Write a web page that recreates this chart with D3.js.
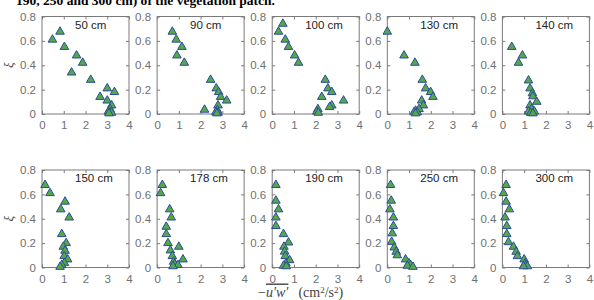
<!DOCTYPE html>
<html>
<head>
<meta charset="utf-8">
<script src="https://cdn.jsdelivr.net/npm/d3@7"></script>
<style>
body { margin: 0; background: #fff; }
svg { display: block; }
</style>
</head>
<body>
<svg id="chart" width="594" height="300"></svg>
<script>
// stations downstream of the patch, one panel each
const stationLabels = ["50 cm", "90 cm", "100 cm", "130 cm", "140 cm",
                       "150 cm", "178 cm", "190 cm", "250 cm", "300 cm"];

// [-u'w' (cm^2/s^2), xi]
const uw50 = [[0.83,0.675],[0.48,0.61],[1.03,0.55],[1.59,0.48],[1.87,0.42],[1.36,0.34],[2.24,0.28],
              [3.0,0.21],[3.33,0.18],[2.67,0.14],[3.0,0.11],[3.2,0.07],[3.13,0.04],[3.05,0.02],
              [3.15,0.015],[3.2,0.01],[3.08,0.005]];
const uw90 = [[0.70,0.675],[0.88,0.61],[1.14,0.55],[0.91,0.48],[1.25,0.42],[2.46,0.28],[2.72,0.21],
              [2.83,0.18],[2.92,0.14],[3.2,0.11],[2.8,0.07],[2.18,0.035],[2.77,0.03],[2.7,0.015],
              [2.8,0.01],[2.75,0.005]];
const uw100 = [[0.49,0.74],[0.29,0.675],[0.6,0.61],[0.75,0.55],[1.03,0.48],[1.21,0.42],[2.44,0.28],
               [2.56,0.21],[2.74,0.18],[2.28,0.14],[3.28,0.11],[2.74,0.07],[2.64,0.057],[2.1,0.04],
               [2.05,0.02],[2.12,0.01]];
const uw130 = [[0.0,0.675],[0.77,0.48],[1.27,0.42],[1.61,0.28],[1.76,0.21],[1.99,0.18],[2.1,0.14],
               [1.58,0.11],[1.66,0.07],[1.46,0.04],[1.3,0.027],[1.38,0.014],[1.23,0.014],[1.3,0.005]];
const uw140 = [[0.43,0.55],[0.92,0.48],[0.74,0.42],[1.2,0.275],[1.27,0.21],[1.38,0.17],[1.4,0.145],
               [1.58,0.10],[1.27,0.07],[1.35,0.04],[1.47,0.02],[1.2,0.02],[1.3,0.008],[1.4,0.005]];
const uw150 = [[0.14,0.677],[0.37,0.61],[1.06,0.54],[0.86,0.477],[1.25,0.41],[0.91,0.274],[1.11,0.2],
               [0.98,0.17],[1.06,0.137],[1.02,0.093],[1.18,0.066],[1.03,0.038],[0.91,0.02],[0.83,0.005]];
const uw178 = [[0.24,0.677],[0.16,0.61],[0.58,0.477],[0.65,0.41],[0.42,0.334],[0.42,0.274],[0.5,0.2],
               [0.61,0.14],[1.0,0.17],[0.7,0.093],[1.19,0.066],[0.76,0.047],[0.81,0.027],[0.96,0.02],
               [0.73,0.01]];
const uw190 = [[0.17,0.677],[0.17,0.548],[0.29,0.477],[0.17,0.41],[0.17,0.34],[0.52,0.274],[0.75,0.205],
               [0.54,0.17],[0.57,0.13],[0.6,0.093],[0.8,0.06],[0.63,0.033],[0.52,0.014],[0.65,0.01]];
const uw250 = [[0.15,0.677],[0.18,0.548],[0.12,0.477],[0.28,0.41],[0.28,0.34],[0.23,0.28],[0.2,0.21],
               [0.32,0.164],[0.41,0.129],[0.46,0.1],[0.84,0.066],[1.0,0.033],[1.07,0.02],[0.92,0.014],
               [1.18,0.005]];
const uw300 = [[0.17,0.677],[0.05,0.61],[0.17,0.54],[0.32,0.477],[0.12,0.41],[0.2,0.34],[0.2,0.274],
               [0.28,0.208],[0.51,0.17],[0.63,0.129],[0.69,0.093],[1.0,0.066],[1.05,0.033],[1.09,0.02],
               [1.15,0.01],[0.97,0.01]];
const stationData = [uw50, uw90, uw100, uw130, uw140, uw150, uw178, uw190, uw250, uw300];

const xTicks = [0, 1, 2, 3, 4];
const yTicks = [0, 0.2, 0.4, 0.6, 0.8];

// layout
const panelW = 87, panelH = 97.5;
const colStep = 115.1, left0 = 42;
const rowTops = [16.5, 170];

const svg = d3.select("#chart");
const axisGray = "#7a7a7a";
const tickText = "#707070";

const x = d3.scaleLinear().domain([0, 4]).range([0, panelW]);
const y = d3.scaleLinear().domain([0, 0.8]).range([panelH, 0]);
const tri = d3.symbol().type(d3.symbolTriangle).size(32);

// caption fragment cut off at the top of the page (as in the source image)
svg.append("text")
    .attr("x", 16).attr("y", 4.5)
    .attr("font-family", "Liberation Serif").attr("font-weight", "bold")
    .attr("font-size", 13).attr("fill", "#000")
    .attr("textLength", 259).attr("lengthAdjust", "spacingAndGlyphs")
    .text("190, 250 and 300 cm) of the vegetation patch.");

stationLabels.forEach((label, i) => {
    const row = Math.floor(i / 5), col = i % 5;
    const g = svg.append("g")
        .attr("transform", `translate(${left0 + col * colStep},${rowTops[row]})`);

    const styleAxis = sel => {
        sel.select(".domain").remove();
        sel.selectAll("line").attr("stroke", axisGray);
        sel.selectAll("text").attr("fill", tickText)
            .attr("font-family", "Liberation Sans").attr("font-size", 11.5);
    };

    g.append("g").attr("transform", `translate(0,${panelH})`)
        .call(d3.axisBottom(x).tickValues(xTicks).tickSize(-3).tickPadding(7).tickFormat(d3.format("d")))
        .call(styleAxis);
    g.append("g")
        .call(d3.axisTop(x).tickValues(xTicks).tickSize(-3).tickFormat(""))
        .call(styleAxis);
    g.append("g")
        .call(d3.axisLeft(y).tickValues(yTicks).tickSize(-3).tickPadding(6)
            .tickFormat(d => d === 0 ? "0" : d3.format(".1f")(d)))
        .call(styleAxis);
    g.append("g").attr("transform", `translate(${panelW},0)`)
        .call(d3.axisRight(y).tickValues(yTicks).tickSize(-3).tickFormat(""))
        .call(styleAxis);

    g.append("rect")
        .attr("width", panelW).attr("height", panelH)
        .attr("fill", "none").attr("stroke", axisGray).attr("stroke-width", 1);

    g.append("text")
        .attr("x", 33).attr("y", 12)
        .attr("font-family", "Liberation Sans").attr("font-size", 11.5)
        .attr("fill", "#222")
        .text(label);

    g.selectAll("path.pt")
        .data(stationData[i])
        .join("path")
        .attr("class", "pt")
        .attr("transform", d => `translate(${x(d[0])},${y(d[1])})`)
        .attr("d", tri)
        .attr("fill", "#55a84a")
        .attr("stroke", "#2b4c9b")
        .attr("stroke-width", 1);

    if (col === 0) {
        svg.append("text")
            .attr("transform", `translate(13,${rowTops[row] + panelH / 2}) rotate(-90)`)
            .attr("text-anchor", "middle")
            .attr("font-family", "Liberation Serif").attr("font-style", "italic")
            .attr("font-size", 13).attr("fill", "#444")
            .text("ξ");
    }
});

// x-axis label under the bottom row
const xl = svg.append("text")
    .attr("x", 258).attr("y", 296.5)
    .attr("font-family", "Liberation Serif").attr("font-size", 14)
    .attr("fill", "#444");
xl.append("tspan").text("−");
xl.append("tspan").attr("font-style", "italic")
    .style("text-decoration", "overline").text("u′w′");
xl.append("tspan").attr("dx", 10).text("(cm");
xl.append("tspan").attr("font-size", 9).attr("dy", -4).text("2");
xl.append("tspan").attr("dy", 4).text("/s");
xl.append("tspan").attr("font-size", 9).attr("dy", -4).text("2");
xl.append("tspan").attr("dy", 4).text(")");
</script>
</body>
</html>
